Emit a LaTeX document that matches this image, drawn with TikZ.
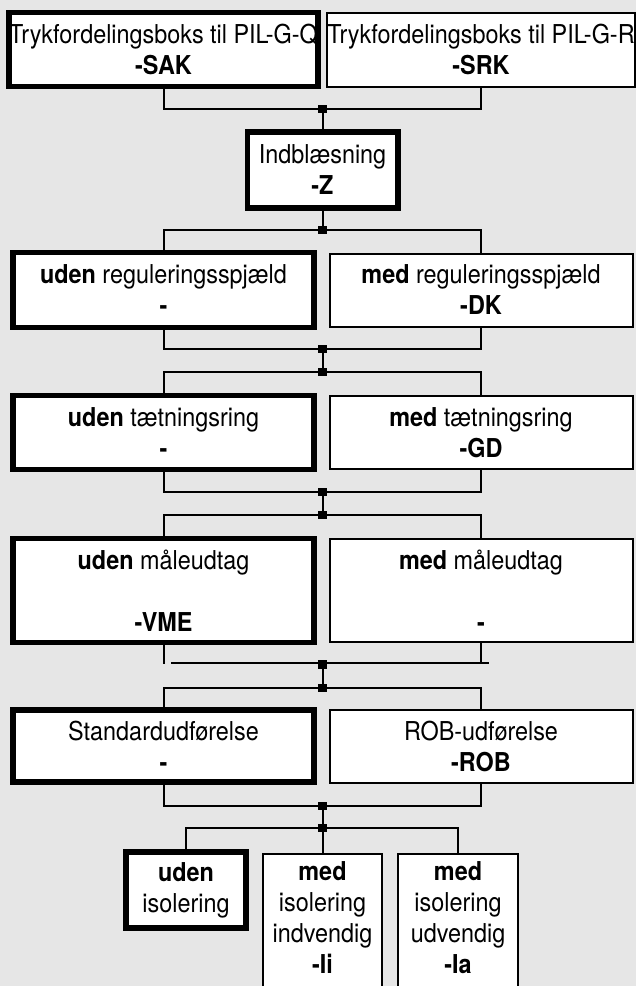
\documentclass[tikz,border=0pt]{standalone}
\usepackage{fontspec}
\setmainfont{TeX Gyre Heros}[FakeStretch=0.9]
\definecolor{baggrund}{RGB}{230,230,230}
\newcommand{\forlaeng}{\rule[-40pt]{0pt}{40pt}}
\begin{document}
\begin{tikzpicture}[x=1pt,y=-1pt,
  boks/.style={draw=black,fill=white,line width=2pt,inner sep=0pt,align=center,
    font=\fontsize{26}{31}\selectfont,minimum width=303pt,minimum height=74pt},
  valgt/.style={boks,line width=5.5pt,minimum width=301pt},
  smal/.style={boks,minimum width=120pt,minimum height=0pt,anchor=north,inner ysep=8pt},
  knude/.style={fill=black,inner sep=0pt,minimum size=8.5pt},
  lnk/.style={line width=2pt}]
\clip (0,0) rectangle (636,986);
\fill [baggrund] (0,0) rectangle (636,986);
\node [valgt] (SAK) at (163.5,49.5) {Trykfordelingsboks til PIL-G-Q\\\textbf{-SAK}};
\node [boks] (SRK) at (481,49.5) {Trykfordelingsboks til PIL-G-R\\\textbf{-SRK}};
\node [valgt,minimum width=150.5pt,minimum height=76pt] (Z) at (322.5,170) {Indblæsning\\\textbf{-Z}};
\node [valgt,minimum height=75pt] (reg0) at (163.5,290) {\textbf{uden} reguleringsspjæld\\\textbf{-}};
\node [boks,minimum height=73pt] (DK) at (481,290) {\textbf{med} reguleringsspjæld\\\textbf{-DK}};
\node [valgt,minimum height=74pt] (tat0) at (163.5,432.5) {\textbf{uden} tætningsring\\\textbf{-}};
\node [boks,minimum height=73pt] (GD) at (481,432.5) {\textbf{med} tætningsring\\\textbf{-GD}};
\node [valgt,minimum height=104pt] (maale0) at (163.5,590.5) {\textbf{uden} måleudtag\\ \\\textbf{-VME}};
\node [boks,minimum height=103pt] (maale1) at (481,590.5) {\textbf{med} måleudtag\\ \\\textbf{-}};
\node [valgt,minimum height=72pt] (std) at (163.5,746) {Standardudførelse\\\textbf{-}};
\node [boks,minimum height=73pt] (ROB) at (481,746.5) {ROB-udførelse\\\textbf{-ROB}};
\node [valgt,minimum width=120pt,minimum height=76pt] (iso0) at (186,890) {\textbf{uden}\\isolering};
\node [smal,minimum width=119pt] (Ii) at (322.5,853) {\textbf{med}\\isolering\\indvendig\\\textbf{-Ii}\forlaeng};
\node [smal] (Ia) at (458,853) {\textbf{med}\\isolering\\udvendig\\\textbf{-Ia}\forlaeng};
\node [knude] (j1) at (322.5,109) {};
\node [knude] (j2) at (322.5,230) {};
\node [knude] (j3) at (322.5,349) {};
\node [knude] (j4) at (322.5,372) {};
\node [knude] (j5) at (322.5,492) {};
\node [knude] (j6) at (322.5,515) {};
\node [knude] (j7) at (322.5,664.5) {};
\node [knude] (j8) at (322.5,688) {};
\node [knude] (j9) at (322.5,806) {};
\node [knude] (j10) at (322.5,828) {};
\coordinate (h7a) at (171,663);
\coordinate (h7b) at (489,663);
\coordinate (v7a) at (163.5,664);
\coordinate (v7b) at (481,664);
\draw [lnk] (SAK.south) |- (j1) -| (SRK.south);
\draw [lnk] (j1) -- (Z);
\draw [lnk] (Z) -- (j2);
\draw [lnk] (reg0.north) |- (j2) -| (DK.north);
\draw [lnk] (reg0.south) |- (j3) -| (DK.south);
\draw [lnk] (j3) -- (j4);
\draw [lnk] (tat0.north) |- (j4) -| (GD.north);
\draw [lnk] (tat0.south) |- (j5) -| (GD.south);
\draw [lnk] (j5) -- (j6);
\draw [lnk] (maale0.north) |- (j6) -| (maale1.north);
\draw [lnk] (maale0.south) -- (v7a);
\draw [lnk] (maale1.south) -- (v7b);
\draw [lnk] (h7a) -- (h7b);
\draw [lnk] (j7) -- (j8);
\draw [lnk] (std.north) |- (j8) -| (ROB.north);
\draw [lnk] (std.south) |- (j9) -| (ROB.south);
\draw [lnk] (j9) -- (j10);
\draw [lnk] (iso0.north) |- (j10) -| (Ia.north);
\draw [lnk] (j10) -- (Ii.north);
\end{tikzpicture}
\end{document}
